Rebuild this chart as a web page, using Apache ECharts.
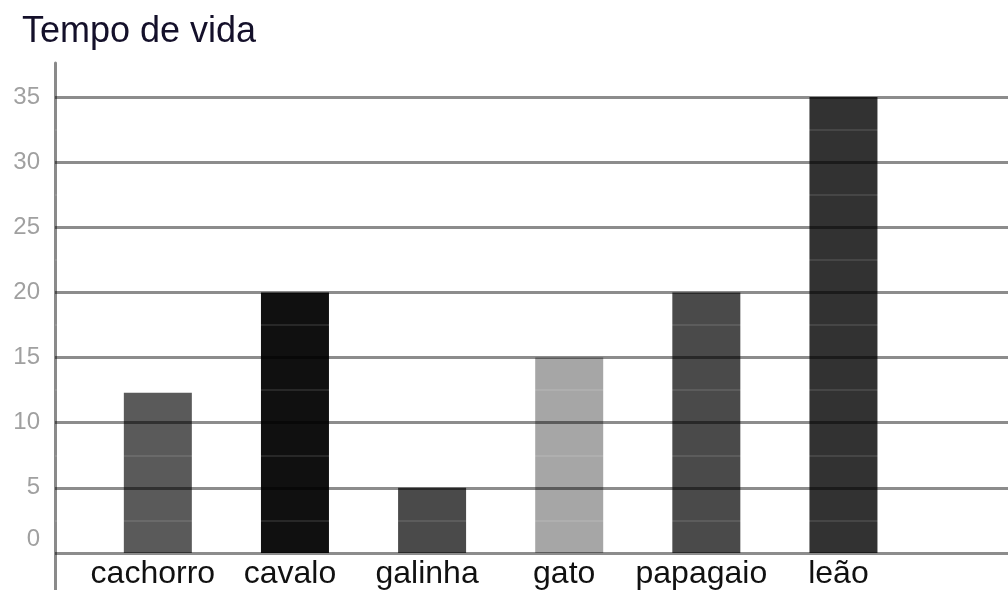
<!DOCTYPE html>
<html><head><meta charset="utf-8">
<script src="https://cdn.jsdelivr.net/npm/echarts@6/dist/echarts.min.js"></script>
<style>html,body{margin:0;padding:0;background:#fff}#c{width:1008px;height:590px}</style>
</head><body><div id="c"></div>
<script>
const titleText = 'Tempo de vida';
const categories = ['cachorro', 'cavalo', 'galinha', 'gato', 'papagaio', 'leão'];
const values = [12.3, 20, 5, 15, 20, 35];
const barColors = ['#5a5a5a', '#101010', '#4a4a4a', '#a6a6a6', '#4a4a4a', '#323232'];
const yTicks = [0, 5, 10, 15, 20, 25, 30, 35];

const font = 'Liberation Sans, Arial, sans-serif';
const chart = echarts.init(document.getElementById('c'));
chart.setOption({
  backgroundColor: '#fff',
  animation: false,
  title: {
    text: titleText, left: 22, top: 14, padding: 0,
    textStyle: { fontFamily: font, fontSize: 36, fontWeight: 'normal', color: '#14102a' }
  },
  grid: [
    { left: 55, right: 0, top: 97, bottom: 37, outerBoundsMode: 'none' },
    { left: 55, right: 0, top: 63, bottom: 0, outerBoundsMode: 'none' }
  ],
  xAxis: [
    { type: 'value', gridIndex: 0, min: -0.75, max: 6.2, show: false },
    { type: 'value', gridIndex: 1, min: 0, max: 1, show: false }
  ],
  yAxis: [
    {
      type: 'value', gridIndex: 0, z: 5,
      min: yTicks[0], max: yTicks[yTicks.length - 1], interval: yTicks[1] - yTicks[0],
      axisLine: { show: false }, axisTick: { show: false },
      axisLabel: {
        margin: 15, fontFamily: font, fontSize: 24, color: '#a0a0a0',
        formatter: v => v === 0 ? '{z|0}' : String(v),
        rich: { z: { fontFamily: font, fontSize: 24, color: '#a0a0a0', padding: [0, 0, 28, 0] } }
      },
      splitLine: { show: true, lineStyle: { color: 'rgba(0,0,0,0.45)', width: 3 } },
      minorTick: { show: false, splitNumber: 2 },
      minorSplitLine: { show: true, lineStyle: { color: 'rgba(255,255,255,0.1)', width: 2 } }
    },
    {
      type: 'value', gridIndex: 1, min: 0, max: 1,
      axisLine: { show: true, lineStyle: { color: '#8a8a8a', width: 3 } },
      axisTick: { show: false }, axisLabel: { show: false }, splitLine: { show: false }
    }
  ],
  series: [{
    type: 'bar',
    xAxisIndex: 0, yAxisIndex: 0,
    barWidth: 68,
    data: categories.map((c, i) => ({ name: c, value: [i, values[i]], itemStyle: { color: barColors[i] } })),
    label: {
      show: true, position: 'bottom', distance: 5, offset: [-5, 0],
      formatter: p => p.name,
      fontFamily: font, fontSize: 32, color: '#111'
    }
  }]
});
</script></body></html>
